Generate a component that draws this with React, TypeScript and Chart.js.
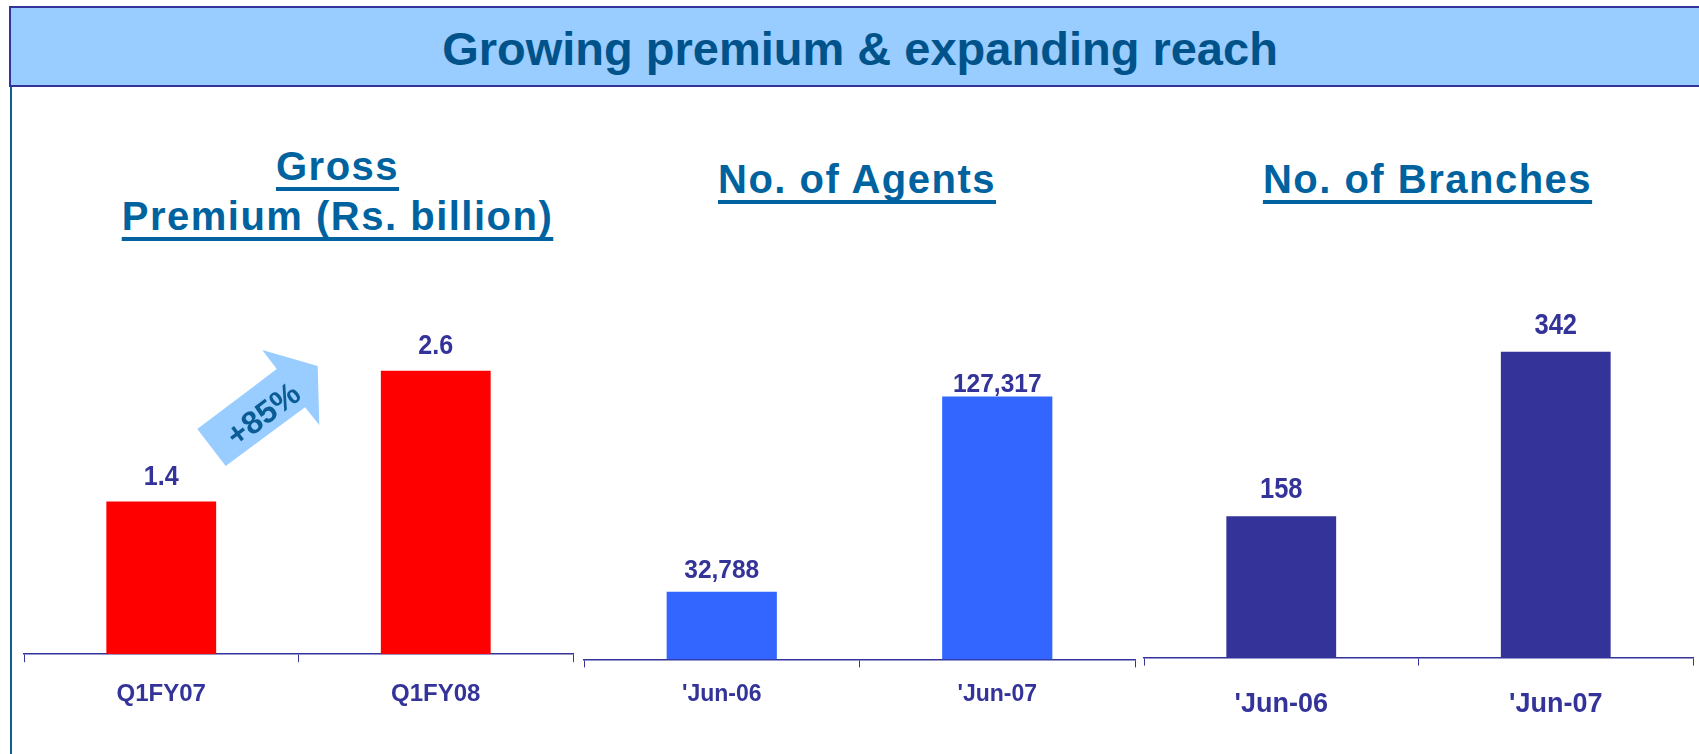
import React, { useEffect, useRef } from 'react';
import { Chart, registerables } from 'chart.js';

Chart.register(...registerables);

const FONT = '"Liberation Sans", Arial, Helvetica, sans-serif';
const INK = '#333399';

// ---- data ----
const premiumCategories = ['Q1FY07', 'Q1FY08'];
const premiumValues = [1.4, 2.6];
const agentCategories = ["'Jun-06", "'Jun-07"];
const agentValues = [32788, 127317];
const branchCategories = ["'Jun-06", "'Jun-07"];
const branchValues = [158, 342];
const growthLabel = '+85%';

const pageTitle = 'Growing premium & expanding reach';
const premiumTitle = ['Gross', 'Premium (Rs. billion)'];
const agentTitle = 'No. of Agents';
const branchTitle = 'No. of Branches';

type PanelProps = {
  categories: string[];
  values: number[];
  labels: string[];
  color: string;
  yMax: number;
  left: number;
  top: number;
  width: number;
  height: number;
  tickSize: number;
  tickPadding: number;
  valueSize: number;
  valueScaleX: number;
  gaps: number[];
};

function BarPanel(p: PanelProps) {
  const ref = useRef<HTMLCanvasElement | null>(null);
  useEffect(() => {
    if (!ref.current) return;
    const valueLabels = {
      id: 'valueLabels',
      afterDatasetsDraw(chart: any) {
        const ctx = chart.ctx;
        const meta = chart.getDatasetMeta(0);
        ctx.save();
        ctx.fillStyle = INK;
        ctx.font = `bold ${p.valueSize}px ${FONT}`;
        ctx.textAlign = 'center';
        ctx.textBaseline = 'alphabetic';
        meta.data.forEach((bar: any, i: number) => {
          ctx.save();
          ctx.translate(bar.x, bar.y - p.gaps[i]);
          ctx.scale(p.valueScaleX, 1);
          ctx.fillText(p.labels[i], 0, 0);
          ctx.restore();
        });
        ctx.restore();
      },
    };
    const chart = new Chart(ref.current, {
      type: 'bar',
      data: {
        labels: p.categories,
        datasets: [
          {
            data: p.values,
            backgroundColor: p.color,
            borderWidth: 0,
            barPercentage: 0.8,
            categoryPercentage: 0.5,
          },
        ],
      },
      options: {
        responsive: false,
        animation: false,
        layout: { padding: { top: 20, left: 2, right: 2, bottom: 0 } },
        plugins: {
          legend: { display: false },
          tooltip: { enabled: false },
          title: { display: false },
        },
        scales: {
          x: {
            type: 'category',
            offset: true,
            grid: {
              offset: true,
              drawOnChartArea: false,
              drawTicks: true,
              tickLength: 8,
              color: INK,
              lineWidth: 1,
            },
            border: { display: true, color: INK, width: 1.5 },
            ticks: {
              color: INK,
              padding: p.tickPadding,
              font: { family: FONT, size: p.tickSize, weight: 'bold', lineHeight: 1.2 },
            },
          },
          y: { display: false, min: 0, max: p.yMax },
        },
      },
      plugins: [valueLabels],
    } as any);
    return () => chart.destroy();
  }, []);
  return (
    <canvas
      ref={ref}
      width={p.width}
      height={p.height}
      style={{ position: 'absolute', left: p.left, top: p.top, width: p.width, height: p.height }}
    />
  );
}

const subTitleStyle: React.CSSProperties = {
  position: 'absolute',
  transform: 'translateX(-50%)',
  textAlign: 'center',
  whiteSpace: 'nowrap',
  fontFamily: FONT,
  fontWeight: 'bold',
  fontSize: 40,
  lineHeight: '50px',
  letterSpacing: '1.5px',
  color: '#0063A0',
  textDecoration: 'underline',
  textDecorationThickness: '4px',
  textUnderlineOffset: '7px',
  textDecorationSkipInk: 'none',
} as React.CSSProperties;

export default function App() {
  return (
    <div style={{ position: 'absolute', left: 0, top: 0, width: 1699, height: 754, background: '#fff', overflow: 'hidden' }}>
      {/* header band */}
      <div
        style={{
          position: 'absolute',
          left: 9,
          top: 6,
          width: 1690,
          height: 81,
          boxSizing: 'border-box',
          background: '#99CCFF',
          borderTop: '2px solid #333399',
          borderBottom: '2px solid #333399',
          borderLeft: '2px solid #333399',
        }}
      />
      <div
        style={{
          position: 'absolute',
          left: 860,
          top: 25,
          whiteSpace: 'nowrap',
          fontFamily: FONT,
          fontWeight: 'bold',
          fontSize: 47,
          lineHeight: '47px',
          color: '#00538A',
          transform: 'translateX(-50%)',
        }}
      >
        {pageTitle}
      </div>
      {/* left border */}
      <div style={{ position: 'absolute', left: 10, top: 87, width: 2, height: 667, background: '#0D5F92' }} />

      {/* panel titles */}
      <div style={{ ...subTitleStyle, left: 337.5, top: 141 }}>
        {premiumTitle[0]}
        <br />
        {premiumTitle[1]}
      </div>
      <div style={{ ...subTitleStyle, left: 857, top: 154 }}>{agentTitle}</div>
      <div style={{ ...subTitleStyle, left: 1427.5, top: 154 }}>{branchTitle}</div>

      <BarPanel
        categories={premiumCategories}
        values={premiumValues}
        labels={premiumValues.map((v) => v.toFixed(1))}
        color="#FF0000"
        yMax={3.25}
        left={22}
        top={280}
        width={553}
        height={447}
        tickSize={24}
        tickPadding={18}
        valueSize={27}
        valueScaleX={0.93}
        gaps={[17, 17]}
      />
      <BarPanel
        categories={agentCategories}
        values={agentValues}
        labels={agentValues.map((v) => v.toLocaleString('en-US'))}
        color="#3366FF"
        yMax={174000}
        left={582}
        top={280}
        width={555}
        height={441}
        tickSize={23}
        tickPadding={13}
        valueSize={25}
        valueScaleX={0.98}
        gaps={[14, 4]}
      />
      <BarPanel
        categories={branchCategories}
        values={branchValues}
        labels={branchValues.map((v) => String(v))}
        color="#333399"
        yMax={400}
        left={1142}
        top={280}
        width={553}
        height={464}
        tickSize={27}
        tickPadding={23}
        valueSize={29}
        valueScaleX={0.88}
        gaps={[18, 18]}
      />

      {/* growth arrow */}
      <svg
        width={1699}
        height={754}
        style={{ position: 'absolute', left: 0, top: 0, pointerEvents: 'none' }}
      >
        <polygon
          points="197.3,429 276.7,369 262.3,350 317.7,366 319.3,425 305,407.3 225.7,466"
          fill="#99CCFF"
        />
        <text
          x={263}
          y={414}
          transform="rotate(-37 263 414)"
          textAnchor="middle"
          dominantBaseline="central"
          fontFamily={FONT}
          fontWeight="bold"
          fontSize={32}
          fill="#0A5C94"
        >
          {growthLabel}
        </text>
      </svg>
    </div>
  );
}
